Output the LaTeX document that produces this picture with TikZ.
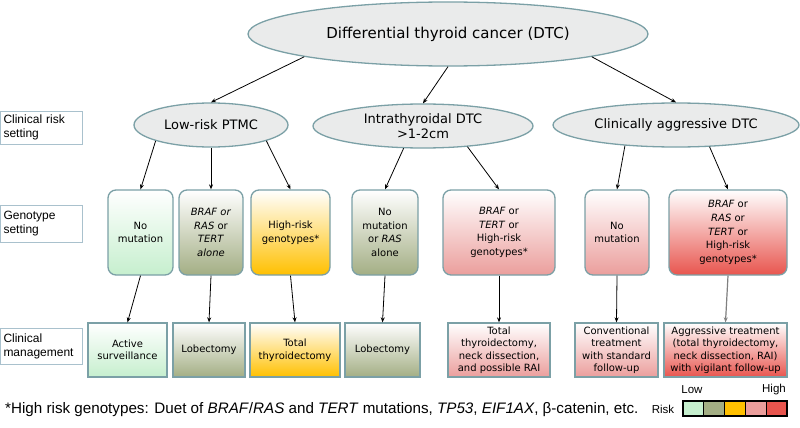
\documentclass[tikz,border=0pt]{standalone}
\usepackage{fontspec}
\setmainfont{DejaVu Sans}
\newfontfamily\arialfont{Liberation Sans}
\usepackage{xcolor}
\usetikzlibrary{arrows.meta,shapes.geometric}

\definecolor{edgeteal}{HTML}{7BA0A6}
\definecolor{ellgray}{HTML}{EAEBEB}
\definecolor{labeledge}{HTML}{A9C1CD}
\definecolor{riskgreen}{HTML}{C6EFCE}
\definecolor{riskolive}{HTML}{A3AE84}
\definecolor{riskamber}{HTML}{FFC000}
\definecolor{riskpink}{HTML}{EB9E9C}
\definecolor{riskred}{HTML}{E8554E}

\begin{document}
\begin{tikzpicture}[
    x=1pt, y=-1pt,
    >={Stealth[length=5pt,width=4pt]},
    setting/.style={ellipse, draw=edgeteal, line width=1.3pt, fill=ellgray, inner sep=0pt, align=center, font=\fontsize{13}{15}\selectfont},
    geno/.style={draw=edgeteal, line width=1.3pt, rounded corners=8pt, minimum height=85pt, inner sep=2pt, align=center, font=\fontsize{10}{13.7}\selectfont, top color=white},
    manage/.style={draw=edgeteal, line width=1.3pt, minimum height=54pt, inner sep=1pt, align=center, font=\fontsize{10}{12.5}\selectfont, top color=white},
    rowlabel/.style={draw=labeledge, line width=0.8pt, fill=white, text width=76pt, inner sep=3pt, minimum height=35pt, align=left, font=\arialfont\fontsize{12}{14}\selectfont},
    riskcell/.style={draw=black, line width=1.2pt, minimum width=20.8pt, minimum height=15pt, inner sep=0pt},
    legtext/.style={inner sep=0pt, font=\arialfont\fontsize{11.5}{13}\selectfont},
    arr/.style={->, line width=0.8pt},
]
\useasboundingbox (0,0) rectangle (800,428);

% Top level
\node[setting, minimum width=400pt, minimum height=64pt, font=\fontsize{15}{17}\selectfont] (dtc) at (448,34) {Differential thyroid cancer (DTC)};

% Clinical risk setting
\node[setting, minimum width=154pt, minimum height=44pt] (ptmc) at (211,125) {Low-risk PTMC};
\node[setting, minimum width=220pt, minimum height=44pt] (intra) at (423,126) {Intrathyroidal DTC\\>1-2cm};
\node[setting, minimum width=246pt, minimum height=44pt] (aggr) at (676,125) {Clinically aggressive DTC};

% Genotype setting
\node[geno, minimum width=65pt, bottom color=riskgreen] (g1) at (140.5,232.5) {No\\mutation};
\node[geno, minimum width=64pt, bottom color=riskolive] (g2) at (211,232.5) {\textit{BRAF or}\\\textit{RAS} or\\\textit{TERT}\\\textit{alone}};
\node[geno, minimum width=79pt, bottom color=riskamber] (g3) at (290.5,232.5) {High-risk\\genotypes*};
\node[geno, minimum width=66pt, bottom color=riskolive] (g4) at (385,232.5) {No\\mutation\\or \textit{RAS}\\alone};
\node[geno, minimum width=112pt, bottom color=riskpink] (g5) at (499,232.5) {\textit{BRAF} or\\\textit{TERT} or\\High-risk\\genotypes*};
\node[geno, minimum width=64pt, bottom color=riskpink] (g6) at (617,232.5) {No\\mutation};
\node[geno, minimum width=118pt, bottom color=riskred] (g7) at (728,232.5) {\textit{BRAF} or\\\textit{RAS} or\\\textit{TERT} or\\High-risk\\genotypes*};

% Clinical management
\node[manage, minimum width=79pt, bottom color=riskgreen] (m1) at (127.5,350) {Active\\surveillance};
\node[manage, minimum width=72pt, bottom color=riskolive] (m2) at (209,350) {Lobectomy};
\node[manage, minimum width=90pt, bottom color=riskamber] (m3) at (295,350) {Total\\thyroidectomy};
\node[manage, minimum width=75pt, bottom color=riskolive] (m4) at (382.5,350) {Lobectomy};
\node[manage, minimum width=102pt, bottom color=riskpink] (m5) at (499,350) {Total\\thyroidectomy,\\neck dissection,\\and possible RAI};
\node[manage, minimum width=83pt, bottom color=riskpink] (m6) at (616.5,350) {Conventional\\treatment\\with standard\\follow-up};
\node[manage, minimum width=123pt, bottom color=riskred] (m7) at (725.5,350) {Aggressive treatment\\(total thyroidectomy,\\neck dissection, RAI)\\with vigilant follow-up};

% Row labels
\node[rowlabel, minimum height=33pt] (lrisk) at (41.5,127.5) {Clinical risk\\setting};
\node[rowlabel, minimum height=37pt] (lgeno) at (41.5,223.5) {Genotype\\setting};
\node[rowlabel, minimum height=36pt] (lmanage) at (41.5,346) {Clinical\\management};

% Arrows: top -> risk settings
\draw[arr] (dtc.189) -- (ptmc.north);
\draw[arr] (dtc.south) -- (intra.north);
\draw[arr] (dtc.351) -- (aggr.north);

% Arrows: risk settings -> genotypes
\draw[arr] (ptmc.196) -- (g1.north);
\draw[arr] (ptmc.south) -- (g2.north);
\draw[arr] (ptmc.344) -- (g3.north);
\draw[arr] (intra.229) -- (g4.north);
\draw[arr] (intra.335) -- (g5.north);
\draw[arr] (aggr.202) -- (g6.north);
\draw[arr] (aggr.327) -- (g7.north);

% Arrows: genotypes -> management
\foreach \i in {1,...,6}
    \draw[arr] (g\i.south) -- (m\i.north);
\draw[arr, line width=1.2pt, draw=gray, fill=gray] (g7.south) -- (m7.north);

% Footnote
\node[anchor=west, inner sep=0pt, font=\arialfont\fontsize{15.2}{18}\selectfont] (note) at (5,410) {*High risk genotypes: Duet of \textit{BRAF}/\textit{RAS} and \textit{TERT} mutations, \textit{TP53}, \textit{EIF1AX}, β-catenin, etc.};

% Risk legend
\foreach \c [count=\i] in {riskgreen,riskolive,riskamber,riskpink,riskred}
    \node[riskcell, fill=\c] (leg\i) at ({683+20.8*(\i-0.5)},408.5) {};
\node[legtext] (low) at (692,390) {Low};
\node[legtext] (high) at (774,390) {High};
\node[legtext] (risk) at (663,409) {Risk};

\end{tikzpicture}
\end{document}
